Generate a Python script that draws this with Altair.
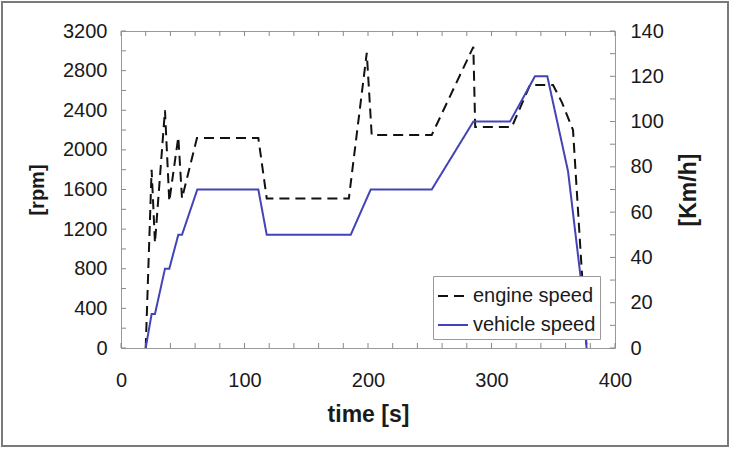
import altair as alt
import pandas as pd

# ---- data ----
engine_t = [20, 24.8, 27.5, 35.6, 39.1, 46.4, 49.4, 61.5, 111.2, 118, 184.5, 199,
            203, 251.6, 285.3, 286.8, 316.4, 331.2, 349.8, 357, 366, 377]
engine_rpm = [0, 1800, 1060, 2400, 1480, 2130, 1510, 2120, 2120, 1510, 1510, 2980,
              2150, 2150, 3040, 2230, 2230, 2655, 2655, 2480, 2200, 0]

vehicle_t = [20, 24.8, 27.5, 35.6, 39.1, 46.4, 49.4, 61.8, 111.2, 118, 186, 202.2,
             251.6, 285.3, 315, 335.2, 345.2, 362, 372, 377]
vehicle_kmh = [0, 15, 15, 35, 35, 50, 50, 70, 70, 50, 50, 70, 70, 100, 100, 120,
               120, 78, 32, 0]

series_names = ["engine speed", "vehicle speed"]
x_labels = [0, 100, 200, 300, 400]
rpm_labels = [0, 400, 800, 1200, 1600, 2000, 2400, 2800, 3200]
kmh_labels = [0, 20, 40, 60, 80, 100, 120, 140]
x_minor = list(range(0, 401, 20))
rpm_minor = list(range(0, 3201, 200))
kmh_minor = list(range(0, 141, 10))

W, H = 494, 317
FONT = "Liberation Sans"
TXT = "#1a1a1a"

eng = pd.DataFrame({"t": engine_t, "val": engine_rpm, "series": series_names[0]})
veh = pd.DataFrame({"t": vehicle_t, "val": vehicle_kmh, "series": series_names[1]})

xscale = alt.Scale(domain=[0, 400], nice=False)
rpm_scale = alt.Scale(domain=[0, 3200], nice=False)
kmh_scale = alt.Scale(domain=[0, 140], nice=False)
color = alt.Color("series:N", title=None,
                  scale=alt.Scale(domain=series_names, range=["#111111", "#4343b8"]),
                  legend=alt.Legend(orient="none", legendX=312, legendY=245,
                                    symbolType="stroke", symbolSize=900,
                                    symbolStrokeWidth=2, labelFontSize=20,
                                    labelFont=FONT, labelColor=TXT,
                                    strokeColor="#999999", fillColor="white",
                                    padding=4, rowPadding=3, labelOffset=4))
dash = alt.StrokeDash("series:N", title=None,
                      scale=alt.Scale(domain=series_names, range=[[10, 6], [1, 0]]))

x_axis = alt.Axis(values=x_labels, title="time [s]", grid=False, ticks=False,
                  domain=False, labelFontSize=20, labelPadding=22, labelFlush=False,
                  format="d",
                  labelFont=FONT, labelColor=TXT, titleFont=FONT, titleFontSize=23,
                  titleFontWeight="bold", titleColor=TXT, titlePadding=13)
rpm_axis = alt.Axis(values=rpm_labels, title="[rpm]", grid=False, ticks=False,
                    domain=False, labelFontSize=20, labelPadding=14, labelFlush=False,
                    format="d",
                    labelFont=FONT, labelColor=TXT, titleFont=FONT, titleFontSize=20,
                    titleFontWeight="bold", titleColor=TXT, titlePadding=15)
kmh_axis = alt.Axis(values=kmh_labels, title="[Km/h]", orient="right", grid=False,
                    ticks=False, domain=False, labelFontSize=20, labelFlush=False,
                    format="d",
                    labelPadding=15, labelFont=FONT, labelColor=TXT, titleFont=FONT,
                    titleFontSize=23, titleFontWeight="bold", titleColor=TXT,
                    titleAngle=270, titlePadding=37)

engine_line = alt.Chart(eng).mark_line(strokeWidth=2).encode(
    x=alt.X("t:Q", scale=xscale, axis=x_axis),
    y=alt.Y("val:Q", scale=rpm_scale, axis=rpm_axis),
    color=color, strokeDash=dash)

vehicle_line = alt.Chart(veh).mark_line(strokeWidth=2).encode(
    x=alt.X("t:Q", scale=xscale, axis=x_axis),
    y=alt.Y("val:Q", scale=kmh_scale, axis=kmh_axis),
    color=color, strokeDash=dash)

tick_col = "#888888"
xt = pd.DataFrame({"t": x_minor})
bottom_ticks = alt.Chart(xt).mark_rule(color=tick_col, strokeWidth=1).encode(
    x=alt.X("t:Q", scale=xscale, axis=x_axis),
    y=alt.value(H), y2=alt.value(H - 5))
top_ticks = alt.Chart(xt).mark_rule(color=tick_col, strokeWidth=1).encode(
    x=alt.X("t:Q", scale=xscale, axis=x_axis),
    y=alt.value(0), y2=alt.value(5))
left_ticks = alt.Chart(pd.DataFrame({"val": rpm_minor})).mark_rule(
    color=tick_col, strokeWidth=1).encode(
    y=alt.Y("val:Q", scale=rpm_scale, axis=rpm_axis),
    x=alt.value(0), x2=alt.value(5))
right_ticks = alt.Chart(pd.DataFrame({"val": kmh_minor})).mark_rule(
    color=tick_col, strokeWidth=1).encode(
    y=alt.Y("val:Q", scale=kmh_scale, axis=kmh_axis),
    x=alt.value(W - 5), x2=alt.value(W))

frame = alt.Chart(pd.DataFrame({"a": [0]})).mark_rect(
    filled=False, fillOpacity=0, stroke="#7a7a7a", strokeWidth=2).encode(
    x=alt.value(-119), x2=alt.value(607), y=alt.value(-29), y2=alt.value(415))

left_layer = alt.layer(engine_line, left_ticks, bottom_ticks, top_ticks)
right_layer = alt.layer(vehicle_line, right_ticks)

chart = alt.layer(left_layer, right_layer, frame).resolve_scale(
    y="independent").properties(
    width=W, height=H,
    autosize=alt.AutoSizeParams(type="none"),
    padding={"left": 121, "top": 31, "right": 116, "bottom": 102},
    background="white",
).configure_view(stroke="#999999", strokeWidth=1)

chart.save("out.html", embed_options={"renderer": "svg", "actions": False})
